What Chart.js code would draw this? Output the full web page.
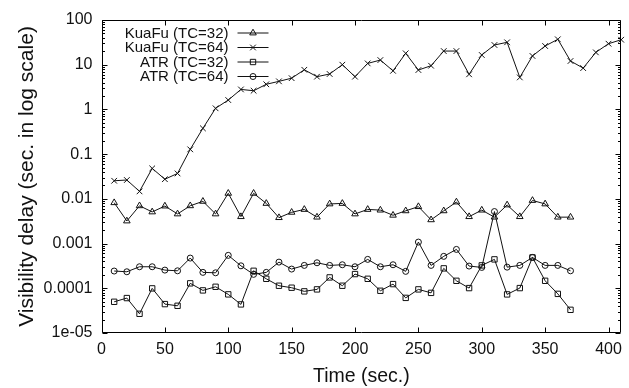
<!DOCTYPE html>
<html lang="en">
<head>
<meta charset="UTF-8">
<title>Visibility delay</title>
<script src="https://cdn.jsdelivr.net/npm/chart.js"></script>
<style>
  html, body { margin: 0; padding: 0; background: #fff; }
</style>
</head>
<body>

<canvas id="delay-chart" width="629" height="388"></canvas>

<script>
// sample times (sec.)
var times = [10, 20, 30, 40, 50, 60, 70, 80, 90, 100, 110, 120, 130, 140, 150, 160, 170, 180, 190, 200,
             210, 220, 230, 240, 250, 260, 270, 280, 290, 300, 310, 320, 330, 340, 350, 360, 370];
var timesLong = times.concat([380, 390, 400, 410]);

// delays (sec.)
var kuafu32 = [0.0082, 0.0032, 0.0070, 0.0051, 0.0069, 0.0046, 0.0070, 0.0088, 0.0046, 0.0133,
               0.0040, 0.0133, 0.0079, 0.0038, 0.0050, 0.0058, 0.0039, 0.0077, 0.0079, 0.0046,
               0.0058, 0.0056, 0.0043, 0.0054, 0.0067, 0.0034, 0.0054, 0.0085, 0.0040, 0.0056,
               0.0039, 0.0073, 0.0040, 0.0092, 0.0077, 0.0039, 0.0039];
var kuafu64 = [0.0254, 0.0264, 0.0147, 0.048, 0.0275, 0.037, 0.128, 0.378, 1.06, 1.62,
               2.8, 2.62, 3.65, 4.25, 5.0, 7.7, 5.4, 6.2, 10, 5.4,
               10.7, 12.7, 7.3, 18, 7.6, 9.5, 20.2, 20.2, 6.1, 16.5,
               27.6, 31.7, 5.2, 15.7, 26.2, 37, 12.1, 8.4, 18.9, 29.5, 36.2];
var atr32 = [4.99e-5, 6.04e-5, 2.69e-5, 9.95e-5, 4.43e-5, 4.06e-5, 1.29e-4, 8.97e-5, 1.08e-4, 7.31e-5,
             4.36e-5, 2.46e-4, 1.63e-4, 1.14e-4, 1.03e-4, 8.53e-5, 9.45e-5, 1.75e-4, 1.14e-4, 2.08e-4,
             1.63e-4, 8.8e-5, 1.24e-4, 6.1e-5, 9.45e-5, 7.9e-5, 2.79e-4, 1.47e-4, 1.01e-4, 3.25e-4,
             4.43e-4, 7.3e-5, 1.01e-4, 4.9e-4, 1.47e-4, 7.5e-5, 3.3e-5];
var atr64 = [2.43e-4, 2.34e-4, 3.03e-4, 3.03e-4, 2.55e-4, 2.46e-4, 4.74e-4, 2.27e-4, 2.22e-4, 5.45e-4,
             3.18e-4, 2.05e-4, 2.27e-4, 3.85e-4, 2.69e-4, 3.25e-4, 3.72e-4, 3.25e-4, 3.36e-4, 3.03e-4,
             4.43e-4, 3.03e-4, 3.36e-4, 2.39e-4, 1.08e-3, 3.25e-4, 5.18e-4, 7.4e-4, 3.14e-4, 2.93e-4,
             5.2e-3, 2.97e-4, 3.25e-4, 4.9e-4, 3.25e-4, 3.25e-4, 2.46e-4];

var seriesLabels = ['KuaFu (TC=32)', 'KuaFu (TC=64)', 'ATR (TC=32)', 'ATR (TC=64)'];

// axis ticks
var xTicks = [0, 50, 100, 150, 200, 250, 300, 350, 400];
var yTicks = [1e-5, 1e-4, 1e-3, 1e-2, 1e-1, 1, 10, 100];
var yTickLabels = ['1e-05', '0.0001', '0.001', '0.01', '0.1', '1', '10', '100'];

var FONT = '"Liberation Sans", Arial, Helvetica, sans-serif';
var INK = '#111';

function pairs(xs, ys) {
    return ys.map(function(v, i) { return {x: xs[i], y: v}; });
}

function makeSet(label, xs, ys, style, radius) {
    return {
        label: label,
        data: pairs(xs, ys),
        borderColor: INK,
        borderWidth: 1,
        pointStyle: style,
        pointRadius: radius,
        pointBorderWidth: 1,
        pointBorderColor: INK,
        pointBackgroundColor: 'rgba(0,0,0,0)',
        showLine: true,
        fill: false,
        tension: 0,
        clip: false
    };
}

// gnuplot style frame with inward ticks
var framePlugin = {
    id: 'gnuFrame',
    afterDraw: function(chart) {
        var a = chart.chartArea, ctx = chart.ctx;
        var xs = chart.scales.x, ys = chart.scales.y;
        ctx.save();
        ctx.strokeStyle = '#000';
        ctx.lineWidth = 1;
        var L = Math.round(a.left) + 0.5, R = Math.round(a.right) - 0.5;
        var T = Math.round(a.top) + 0.5, B = Math.round(a.bottom) - 0.5;
        ctx.beginPath();
        ctx.rect(L, T, R - L, B - T);
        xTicks.forEach(function(v) {
            var px = Math.round(xs.getPixelForValue(v)) + 0.5;
            ctx.moveTo(px, B); ctx.lineTo(px, B - 5);
            ctx.moveTo(px, T); ctx.lineTo(px, T + 5);
        });
        yTicks.forEach(function(v, i) {
            var py = Math.round(ys.getPixelForValue(v)) + 0.5;
            ctx.moveTo(L, py); ctx.lineTo(L + 5, py);
            ctx.moveTo(R, py); ctx.lineTo(R - 5, py);
            if (i < yTicks.length - 1) {
                for (var m = 2; m <= 9; m++) {
                    var pm = Math.round(ys.getPixelForValue(v * m)) + 0.5;
                    ctx.moveTo(L, pm); ctx.lineTo(L + 2.5, pm);
                    ctx.moveTo(R, pm); ctx.lineTo(R - 2.5, pm);
                }
            }
        });
        ctx.stroke();
        ctx.restore();
    }
};

// key in the upper left corner: text right aligned, then line sample
var keyPlugin = {
    id: 'gnuKey',
    afterDatasetsDraw: function(chart) {
        var ctx = chart.ctx, a = chart.chartArea;
        ctx.save();
        ctx.font = '15px ' + FONT;
        ctx.textAlign = 'right';
        ctx.textBaseline = 'middle';
        chart.data.datasets.forEach(function(ds, i) {
            var y = a.top + 12.5 + i * 14.5;
            var tx = a.left + 127;
            ctx.fillStyle = INK;
            ctx.fillText(ds.label, tx, y + 1);
            ctx.strokeStyle = INK;
            ctx.lineWidth = 1;
            ctx.beginPath();
            ctx.moveTo(tx + 9, y + 0.5);
            ctx.lineTo(tx + 40, y + 0.5);
            ctx.stroke();
            ctx.fillStyle = 'rgba(0,0,0,0)';
            Chart.helpers.drawPoint(ctx, {
                pointStyle: ds.pointStyle, radius: ds.pointRadius, rotation: 0, borderWidth: 1
            }, tx + 24.5, y + 0.5);
        });
        ctx.restore();
    }
};

var ctx = document.getElementById('delay-chart').getContext('2d');
var chart = new Chart(ctx, {
    type: 'scatter',
    data: {
        datasets: [
            makeSet(seriesLabels[0], times, kuafu32, 'triangle', 3.8),
            makeSet(seriesLabels[1], timesLong, kuafu64, 'crossRot', 4),
            makeSet(seriesLabels[2], times, atr32, 'rect', 3.8),
            makeSet(seriesLabels[3], times, atr64, 'circle', 3)
        ]
    },
    options: {
        responsive: false,
        animation: false,
        layout: { padding: { left: 0, right: 4.7, top: 20, bottom: 0 } },
        plugins: {
            legend: { display: false },
            tooltip: { enabled: false }
        },
        scales: {
            x: {
                type: 'linear',
                min: 0,
                max: 410,
                afterBuildTicks: function(scale) {
                    scale.ticks = xTicks.map(function(v) { return {value: v}; });
                },
                afterFit: function(scale) { scale.height = 55; },
                grid: { display: false, drawTicks: false },
                border: { display: false },
                ticks: {
                    padding: 7,
                    maxRotation: 0,
                    color: INK,
                    font: { family: FONT, size: 16 }
                },
                title: {
                    display: true,
                    text: 'Time (sec.)',
                    color: INK,
                    padding: { top: 0, bottom: 0 },
                    font: { family: FONT, size: 19.5 }
                }
            },
            y: {
                type: 'logarithmic',
                min: 1e-5,
                max: 100,
                afterBuildTicks: function(scale) {
                    scale.ticks = yTicks.map(function(v) { return {value: v}; });
                },
                afterFit: function(scale) { scale.width = 101.5; },
                grid: { display: false, drawTicks: false },
                border: { display: false },
                ticks: {
                    padding: 9,
                    color: INK,
                    font: { family: FONT, size: 16 },
                    callback: function(v, i) { return yTickLabels[i]; }
                },
                title: {
                    display: true,
                    text: 'Visibility delay (sec. in log scale)',
                    color: INK,
                    padding: { top: 15, bottom: 0 },
                    font: { family: FONT, size: 21 }
                }
            }
        }
    },
    plugins: [framePlugin, keyPlugin]
});
</script>

</body>
</html>
